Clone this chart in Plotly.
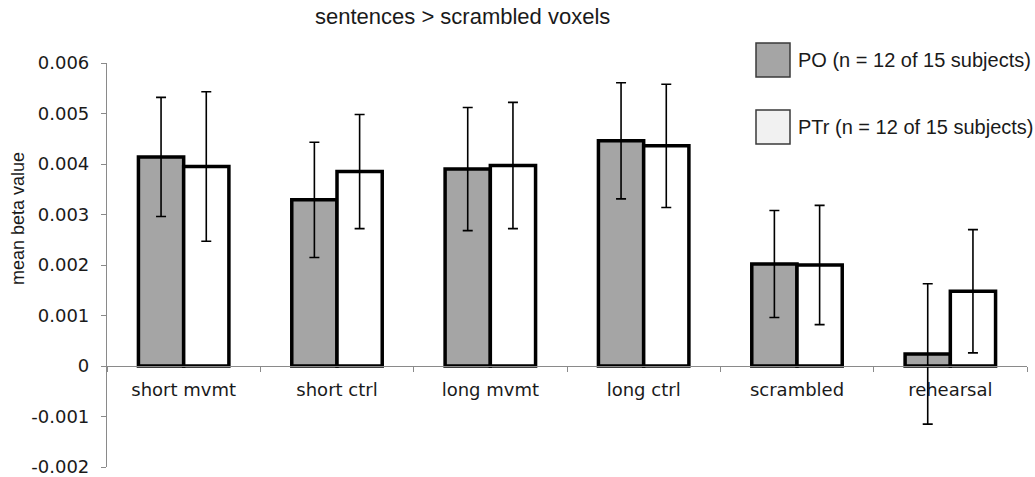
import plotly.graph_objects as go

categories = ["short mvmt", "short ctrl", "long mvmt", "long ctrl", "scrambled", "rehearsal"]
po_values = [0.00414, 0.00329, 0.00390, 0.00446, 0.00202, 0.00024]
po_errors = [0.00118, 0.00114, 0.00122, 0.00115, 0.00106, 0.00139]
ptr_values = [0.00395, 0.00385, 0.00397, 0.00436, 0.00200, 0.00148]
ptr_errors = [0.00148, 0.00113, 0.00125, 0.00122, 0.00118, 0.00122]
y_ticks = [-0.002, -0.001, 0, 0.001, 0.002, 0.003, 0.004, 0.005, 0.006]
y_tick_labels = ["-0.002", "-0.001", "0", "0.001", "0.002", "0.003", "0.004", "0.005", "0.006"]
legend_labels = ["PO (n = 12 of 15 subjects)", "PTr (n = 12 of 15 subjects)"]

PO_FILL = "#a5a5a5"
PTR_FILL = "#ffffff"
PTR_LEGEND_FILL = "#f1f1f1"

fig = go.Figure()
fig.add_trace(go.Bar(
    x=categories, y=po_values, name=legend_labels[0],
    marker=dict(color=PO_FILL, line=dict(color="black", width=3.5)),
    error_y=dict(type="data", array=po_errors, visible=True, color="black", thickness=1.6, width=5),
    showlegend=False,
))
fig.add_trace(go.Bar(
    x=categories, y=ptr_values, name=legend_labels[1],
    marker=dict(color=PTR_FILL, line=dict(color="black", width=3.5)),
    error_y=dict(type="data", array=ptr_errors, visible=True, color="black", thickness=1.6, width=5),
    showlegend=False,
))

L, R, T, B = 107, 8, 63, 10
W, H = 1035, 477
PW, PH = W - L - R, H - T - B


def px_x(px):
    return (px - L) / PW


def px_y(py):
    return (H - B - py) / PH


ymin, ymax = -0.002, 0.006
fig.update_layout(
    width=W, height=H,
    margin=dict(l=L, r=R, t=T, b=B, pad=0, autoexpand=False),
    paper_bgcolor="white", plot_bgcolor="white",
    barmode="group", bargap=0.41, bargroupgap=0,
    font=dict(family="DejaVu Sans", size=18, color="#1a1a1a"),
    xaxis=dict(
        anchor="free", position=(0 - ymin) / (ymax - ymin), automargin=False,
        showline=True, linecolor="#8a8a8a", linewidth=1.2,
        ticks="outside", tickson="boundaries", ticklen=5, tickcolor="#8a8a8a", tickwidth=1.2,
        tickfont=dict(family="DejaVu Sans", size=18, color="#1a1a1a"),
        ticklabelstandoff=7,
        showgrid=False, zeroline=False,
    ),
    yaxis=dict(
        range=[ymin, ymax], tickvals=y_ticks, ticktext=y_tick_labels, automargin=False,
        showline=True, linecolor="#8a8a8a", linewidth=1.2,
        ticks="outside", ticklen=5, tickcolor="#8a8a8a", tickwidth=1.2,
        tickfont=dict(family="DejaVu Sans", size=18, color="#1a1a1a"),
        ticklabelstandoff=8, ticklabeloverflow="allow",
        showgrid=False, zeroline=False,
    ),
)

# Y-axis title
fig.add_annotation(
    text="mean beta value", xref="paper", yref="paper",
    x=px_x(18), y=px_y(219), xanchor="center", yanchor="middle", textangle=-90,
    showarrow=False, font=dict(family="Liberation Sans, Arial", size=18, color="#1a1a1a"),
)

# Title
fig.add_annotation(
    text="sentences > scrambled voxels", xref="paper", yref="paper",
    x=px_x(462), y=px_y(17), xanchor="center", yanchor="middle",
    showarrow=False, font=dict(family="Liberation Sans, Arial", size=22, color="#1a1a1a"),
)

# Custom legend (boxes + labels)
legend_fills = [PO_FILL, PTR_LEGEND_FILL]
legend_centers_px = [60, 127]
for fill, label, cy in zip(legend_fills, legend_labels, legend_centers_px):
    fig.add_shape(
        type="rect", xref="paper", yref="paper",
        x0=px_x(756), x1=px_x(790), y0=px_y(cy + 17), y1=px_y(cy - 17),
        fillcolor=fill, line=dict(color="#3a3a3a", width=1.5),
    )
    fig.add_annotation(
        text=label, xref="paper", yref="paper",
        x=px_x(796), y=px_y(cy), xanchor="left", yanchor="middle",
        showarrow=False, font=dict(family="Liberation Sans, Arial", size=20, color="#1a1a1a"),
    )

fig.write_html(
    "out.html",
    config={"displayModeBar": False},
    post_script="document.body.style.margin='0';document.body.style.padding='0';document.body.style.overflow='hidden';",
)
